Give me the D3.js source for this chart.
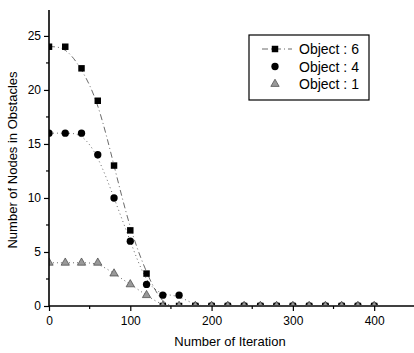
<!DOCTYPE html>
<html>
<head>
<meta charset="utf-8">
<script src="https://cdn.jsdelivr.net/npm/d3@7"></script>
<style>
body { margin: 0; background: #fff; }
svg { font-family: "Liberation Sans", Arial, sans-serif; }
</style>
</head>
<body>
<svg id="chart" width="414" height="353"></svg>
<script>
var iterations = [0, 20, 40, 60, 80, 100, 120, 140, 160, 180, 200, 220, 240, 260, 280, 300, 320, 340, 360, 380, 400];
var object6 = [24, 24, 22, 19, 13, 7, 3, 0, 0, 0, 0, 0, 0, 0, 0, 0, 0, 0, 0, 0, 0];
var object4 = [16, 16, 16, 14, 10, 6, 2, 1, 1, 0, 0, 0, 0, 0, 0, 0, 0, 0, 0, 0, 0];
var object1 = [4, 4, 4, 4, 3, 2, 1, 0, 0, 0, 0, 0, 0, 0, 0, 0, 0, 0, 0, 0, 0];
var seriesNames = ["Object : 6", "Object : 4", "Object : 1"];
var xTicks = [0, 100, 200, 300, 400];
var yTicks = [0, 5, 10, 15, 20, 25];

var svg = d3.select("#chart");
var plotLeft = 49, plotRight = 414, plotTop = 10, plotBottom = 306;

var x = d3.scaleLinear().domain([0, 449]).range([plotLeft, plotRight]);
var y = d3.scaleLinear().domain([0, 27.4]).range([plotBottom, plotTop]);

// markers are cut at the axes, like the original
svg.append("clipPath").attr("id", "plot").append("rect")
    .attr("x", plotLeft).attr("y", plotTop)
    .attr("width", plotRight - plotLeft).attr("height", plotBottom - plotTop - 1);

var series = [
    { name: seriesNames[0], values: object6, shape: d3.symbolSquare, dash: "6,3,1,3", fill: "#000" },
    { name: seriesNames[1], values: object4, shape: d3.symbolCircle, dash: "1,3", fill: "#000" },
    { name: seriesNames[2], values: object1, shape: d3.symbolTriangle, dash: "1,3", fill: "#999" }
];

// lines (smoothed like the original fit)
var line = d3.line()
    .x(function (d, i) { return x(iterations[i]); })
    .y(function (d) { return y(d); })
    .curve(d3.curveBasis);

svg.append("g").attr("clip-path", "url(#plot)").selectAll("path")
    .data(series)
    .enter().append("path")
    .attr("d", function (s) { return line(s.values); })
    .attr("fill", "none")
    .attr("stroke", "#444")
    .attr("stroke-width", 0.8)
    .attr("stroke-dasharray", function (s) { return s.dash; });

// markers
var sym = d3.symbol();
series.forEach(function (s) {
    svg.append("g").attr("clip-path", "url(#plot)").selectAll("path")
        .data(s.values)
        .enter().append("path")
        .attr("transform", function (d, i) { return "translate(" + x(iterations[i]) + "," + y(d) + ")"; })
        .attr("d", sym.type(s.shape).size(s.shape == d3.symbolTriangle ? 30 : 42)())
        .attr("fill", s.fill)
        .attr("stroke", s.shape == d3.symbolTriangle ? "#444" : "none")
        .attr("stroke-width", 0.7);
});

// axes
var xAxis = d3.axisBottom(x).tickValues(xTicks).tickSize(5).tickPadding(5);
var yAxis = d3.axisLeft(y).tickValues(yTicks).tickSize(5).tickPadding(3);

var gx = svg.append("g").attr("transform", "translate(0," + plotBottom + ")").call(xAxis);
var gy = svg.append("g").attr("transform", "translate(" + plotLeft + ",0)").call(yAxis);

// minor ticks
gx.selectAll(".minor").data([50, 150, 250, 350]).enter().append("line")
    .attr("x1", function (d) { return x(d); }).attr("x2", function (d) { return x(d); })
    .attr("y1", 0).attr("y2", 3).attr("stroke", "#000").attr("stroke-width", 1.2);
gy.selectAll(".minor").data([2.5, 7.5, 12.5, 17.5, 22.5]).enter().append("line")
    .attr("y1", function (d) { return y(d); }).attr("y2", function (d) { return y(d); })
    .attr("x1", 0).attr("x2", -3).attr("stroke", "#000").attr("stroke-width", 1.2);

[gx, gy].forEach(function (g) {
    g.select(".domain").attr("stroke", "#000").attr("stroke-width", 1.6);
    g.selectAll(".tick line").attr("stroke", "#000").attr("stroke-width", 1.2);
    g.selectAll(".tick text").attr("font-size", 12).attr("fill", "#000")
        .attr("font-family", "Liberation Sans, Arial, sans-serif");
});
gy.select(".domain").attr("d", "M0," + plotTop + "V" + plotBottom);
gx.select(".domain").attr("d", "M" + plotLeft + ",0H" + plotRight);

// axis titles
svg.append("text").attr("x", 230).attr("y", 346).attr("text-anchor", "middle")
    .attr("font-size", 13).text("Number of Iteration");
svg.append("text").attr("transform", "translate(17,160) rotate(-90)").attr("text-anchor", "middle")
    .attr("font-size", 13).text("Number of Nodes in Obstacles");

// legend
var lg = svg.append("g");
lg.append("rect").attr("x", 249).attr("y", 35).attr("width", 120).attr("height", 65)
    .attr("fill", "#fff").attr("stroke", "#000").attr("stroke-width", 1.2);
series.forEach(function (s, i) {
    var ly = 49 + i * 17.5;
    if (i == 0) {
        lg.append("line").attr("x1", 262).attr("x2", 292).attr("y1", ly).attr("y2", ly)
            .attr("stroke", "#444").attr("stroke-width", 0.8).attr("stroke-dasharray", s.dash);
    }
    lg.append("path").attr("transform", "translate(275," + ly + ")")
        .attr("d", sym.type(s.shape).size(s.shape == d3.symbolTriangle ? 30 : 42)())
        .attr("fill", s.fill)
        .attr("stroke", s.shape == d3.symbolTriangle ? "#444" : "none")
        .attr("stroke-width", 0.7);
    lg.append("text").attr("x", 299).attr("y", ly + 5).attr("font-size", 14).text(s.name);
});
</script>
</body>
</html>
